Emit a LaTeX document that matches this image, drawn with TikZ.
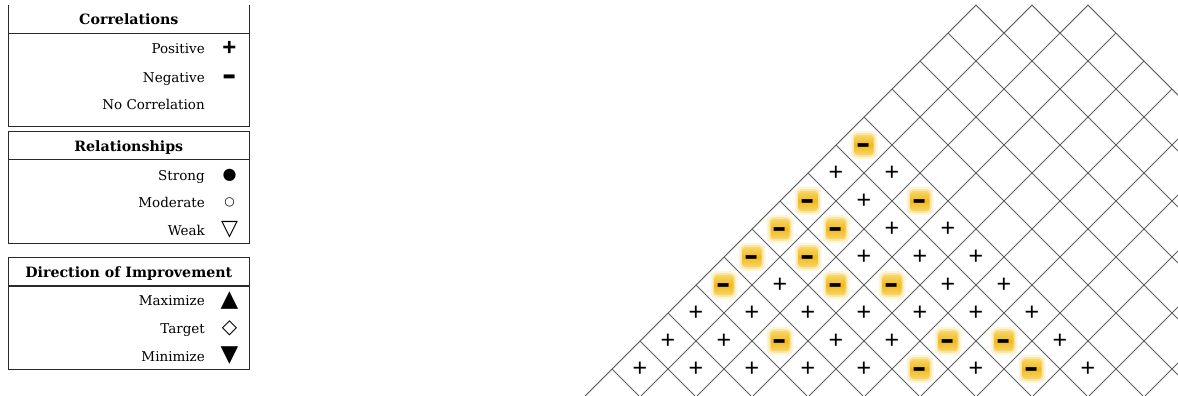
\documentclass[tikz,border=0pt]{standalone}
\usepackage{fontspec}
\usepackage{graphicx}
\setmainfont{DejaVu Serif}
\newfontfamily\symfont{DejaVu Sans}
\newfontfamily\arialfont{Liberation Sans}
\definecolor{boxline}{HTML}{2A2A2A}
\definecolor{gridgray}{HTML}{606060}
\definecolor{glowfaint}{HTML}{FEF6DC}
\definecolor{glowout}{HTML}{FBE7A4}
\definecolor{glowmid}{HTML}{F8D66A}
\definecolor{glowcore}{HTML}{F3B91C}
\begin{document}
\begin{tikzpicture}[x=1pt,y=-1pt,
  box/.style={draw=boxline, line width=1.1pt},
  hdr/.style={anchor=base, inner sep=0, font=\fontsize{14.2}{16}\selectfont\bfseries},
  lbl/.style={anchor=base east, inner sep=0, font=\fontsize{13.5}{15}\selectfont},
  lsym/.style={inner sep=0, anchor=center, font=\symfont},
  gridline/.style={draw=gridgray, line width=0.9pt},
  pluscell/.style={inner sep=0, font=\arialfont\fontsize{25}{25}\selectfont},
  minuscell/.style={inner sep=0, yshift=-5pt, font=\arialfont\bfseries\fontsize{22}{22}\selectfont},
  glowZ/.style={fill=glowfaint, draw=none, rounded corners=6pt, minimum width=27, minimum height=28, inner sep=0},
  glowA/.style={fill=glowout, draw=none, rounded corners=5pt, minimum width=23, minimum height=24, inner sep=0},
  glowB/.style={draw=none, rounded corners=3pt, minimum width=19, minimum height=20, inner sep=0,
     top color=glowmid, bottom color=glowmid, middle color=glowcore}
]
\useasboundingbox (0,0) rectangle (1178,396);
\fill[white] (0,0) rectangle (1178,396);

% ---------- Legend box 1 ----------
\draw[box] (8.3,5) -- (8.3,126.7) -- (249.3,126.7) -- (249.3,5);
\draw[box] (8.3,33.5) -- (249.3,33.5);
\node[hdr] (h1) at (128.8,25) {Correlations};
\node[lbl] (l11) at (205,54) {Positive};
\node[lbl] (l12) at (205,82) {Negative};
\node[lbl] (l13) at (205,109) {No Correlation};
\node[lsym, font=\arialfont\bfseries\fontsize{24}{24}\selectfont] (s11) at (229.5,48) {+};
\node[lsym, yshift=-5pt, font=\arialfont\bfseries\fontsize{22}{22}\selectfont] (s12) at (229.5,76.7) {\scalebox{1}[1.8]{–}};

% ---------- Legend box 2 ----------
\draw[box] (8.3,131.7) rectangle (249.3,243.3);
\draw[box] (8.3,159.3) -- (249.3,159.3);
\node[hdr] (h2) at (128.8,151.7) {Relationships};
\node[lbl] (l21) at (205,180) {Strong};
\node[lbl] (l22) at (205,207.7) {Moderate};
\node[lbl] (l23) at (205,235) {Weak};
\node[lsym, font=\symfont\fontsize{16}{16}\selectfont] (s21) at (229.5,175) {●};
\node[lsym, font=\symfont\fontsize{12}{12}\selectfont] (s22) at (229.5,202) {○};
\node[lsym, font=\symfont\fontsize{22}{22}\selectfont] (s23) at (229.5,230) {▽};

% ---------- Legend box 3 ----------
\draw[box] (8.3,257.3) rectangle (249.3,369.3);
\draw[box] (8.3,286) -- (249.3,286);
\node[hdr] (h3) at (128.8,277) {Direction of Improvement};
\node[lbl] (l31) at (205,305) {Maximize};
\node[lbl] (l32) at (205,333) {Target};
\node[lbl] (l33) at (205,361) {Minimize};
\node[lsym, font=\symfont\fontsize{23}{23}\selectfont] (s31) at (229.5,300.5) {▲};
\node[lsym, font=\symfont\fontsize{20}{20}\selectfont] (s32) at (229.5,328) {◇};
\node[lsym, font=\symfont\fontsize{23}{23}\selectfont] (s33) at (229.5,356) {▼};

% ---------- Correlation roof grid ----------
\begin{scope}
  \clip (578,403) -- (976,5) -- (1004,33) -- (1032,5) -- (1060,33) -- (1088,5) -- (1186,103) -- (1186,403) -- cycle;
  \foreach \j in {0,...,16}{
    \draw[gridline] ({981+56*\j+60},-60) -- ({981+56*\j-460},460);
  }
  \foreach \m in {-3,...,16}{
    \draw[gridline] ({243+56*\m-60},-60) -- ({243+56*\m+460},460);
  }
\end{scope}
\draw[gridline, line join=miter] (578,403) -- (976,5) -- (1004,33) -- (1032,5) -- (1060,33) -- (1088,5) -- (1186,103);

% plus cells
\foreach \r/\k in {0/0,0/1,0/2,0/3,0/4,0/6,0/8,
                   1/0,1/1,1/3,1/4,1/7,
                   2/0,2/1,2/2,2/3,2/4,2/5,2/6,
                   3/1,3/4,3/5,
                   4/2,4/3,4/4,
                   5/2,5/3,
                   6/1,
                   7/0,7/1}{
  \node[pluscell] (p\r-\k) at ({640+28*\r+56*\k},{369-28*\r}) {+};
}
% minus cells
\foreach \r/\k in {0/5,0/7,1/2,1/5,1/6,3/0,3/2,3/3,4/0,4/1,5/0,5/1,6/0,6/2,8/0}{
  \node[glowZ] (gz\r-\k) at ({640+28*\r+56*\k},{369-28*\r}) {};
  \node[glowA] (ga\r-\k) at (gz\r-\k.center) {};
  \node[glowB] (gb\r-\k) at (gz\r-\k.center) {};
  \node[minuscell] (m\r-\k) at (gz\r-\k.center) {\scalebox{1}[1.7]{–}};
}
\end{tikzpicture}
\end{document}
